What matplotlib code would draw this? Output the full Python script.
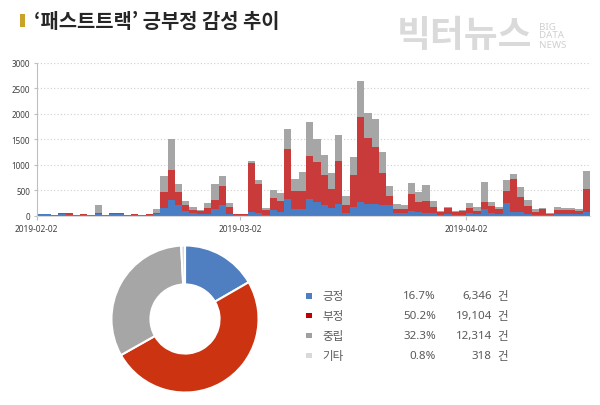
import numpy as np
import pandas as pd
import matplotlib
matplotlib.use("Agg")
import matplotlib.pyplot as plt
import matplotlib.dates as mdates
from matplotlib.patches import Rectangle

# ---------------- data ----------------
start_date = "2019-02-02"
n_days = 76
positive = [25, 25, 5, 30, 10, 5, 15, 5, 30, 5, 30, 25, 10, 15, 5, 10, 30,
            160, 300, 210, 100, 50, 30, 40, 130, 215,
            40, 10, 10, 80, 55, 20, 120, 80,
            330, 130, 140, 330, 260, 200, 145, 230, 50, 175, 270, 225, 225, 215,
            200, 50, 45, 95, 65, 50, 50, 20, 30, 20, 20, 60, 40,
            130, 60, 40, 240, 65, 70, 40, 20, 20, 10, 30, 30, 30, 30, 65]
negative = [5, 5, 15, 15, 45, 5, 20, 10, 20, 10, 25, 30, 5, 20, 10, 15, 20,
            300, 590, 250, 110, 70, 55, 105, 185, 375,
            125, 15, 20, 955, 560, 85, 220, 210,
            980, 360, 350, 835, 790, 600, 380, 840, 165, 630, 1670, 1300, 1130, 615,
            190, 85, 85, 335, 195, 245, 125, 45, 115, 60, 70, 90, 60,
            130, 125, 90, 240, 655, 305, 155, 45, 115, 30, 90, 85, 90, 70, 460]
neutral = [10, 10, 0, 5, 5, 0, 5, 5, 160, 5, 5, 5, 5, 5, 5, 5, 75,
           315, 620, 160, 80, 45, 25, 105, 305, 190,
           75, 5, 10, 45, 90, 45, 170, 155,
           390, 230, 360, 675, 460, 380, 315, 520, 165, 335, 690, 495, 545, 415,
           190, 100, 75, 220, 200, 315, 105, 20, 20, 20, 30, 105, 75,
           395, 75, 45, 210, 100, 185, 115, 60, 10, 5, 45, 30, 35, 25, 345]

xtick_dates = ["2019-02-02", "2019-03-02", "2019-04-02"]
yticks = [0, 500, 1000, 1500, 2000, 2500, 3000]

cat_labels = ["긍정", "부정", "중립", "기타"]
cat_pcts = ["16.7%", "50.2%", "32.3%", "0.8%"]
cat_counts = [6346, 19104, 12314, 318]

title_text = "‘패스트트랙’ 긍부정 감성 추이"

# ---------------- style ----------------
KR = ["Noto Sans CJK KR", "DejaVu Sans"]
bar_blue = "#4A7EC4"
bar_red = "#C93A3A"
bar_gray = "#A6A6A6"
pie_colors = ["#4F7FC0", "#CC3311", "#A6A6A6", "#D9D9D9"]
legend_colors = ["#4F7FC0", "#C00000", "#A0A0A0", "#D9D9D9"]
text_gray = "#595959"

fig = plt.figure(figsize=(6.0, 4.06), dpi=100)
fig.patch.set_facecolor("white")

# ---------------- bar chart ----------------
W, H = 600, 406
ax = fig.add_axes([36.5 / W, 1 - 216.7 / H, (590 - 36.5) / W, (216.7 - 63.5) / H])
dates = pd.date_range(start_date, periods=n_days, freq="D")
pos = np.array(positive)
neg = np.array(negative)
neu = np.array(neutral)
ax.bar(dates, pos, width=1.0, align="edge", color=bar_blue, linewidth=0)
ax.bar(dates, neg, width=1.0, align="edge", bottom=pos, color=bar_red, linewidth=0)
ax.bar(dates, neu, width=1.0, align="edge", bottom=pos + neg, color=bar_gray, linewidth=0)

ax.set_xlim(dates[0], dates[-1] + pd.Timedelta(days=1))
ax.set_ylim(0, 3000)
ax.set_yticks(yticks)
ax.set_yticklabels([str(v) for v in yticks], fontsize=5.8, color="#404040", family="Noto Sans")
ax.set_xticks(pd.to_datetime(xtick_dates))
ax.xaxis.set_major_formatter(mdates.DateFormatter("%Y-%m-%d"))
for lbl in ax.get_xticklabels():
    lbl.set_fontsize(6)
    lbl.set_color("#404040")
    lbl.set_family("Noto Sans")
ax.tick_params(axis="y", length=2.5, color="#BFBFBF", pad=2)
ax.tick_params(axis="x", length=3, color="#BFBFBF", pad=3)
ax.yaxis.grid(True, linestyle=(0, (1, 2)), color="#CFCFCF", linewidth=0.8)
ax.set_axisbelow(True)
for s in ["top", "right"]:
    ax.spines[s].set_visible(False)
ax.spines["left"].set_color("#BFBFBF")
ax.spines["bottom"].set_color("#D9D9D9")
ax.spines["left"].set_linewidth(0.8)
ax.spines["bottom"].set_linewidth(0.8)

# ---------------- donut ----------------
cx, cy, r = 185, 320, 75
axp = fig.add_axes([(cx - r) / W, 1 - (cy + r) / H, 2 * r / W, 2 * r / H])
axp.pie(cat_counts, colors=pie_colors, startangle=90, counterclock=False,
        wedgeprops=dict(width=0.53, edgecolor="white", linewidth=1.5))
axp.set_xlim(-1.02, 1.02)
axp.set_ylim(-1.02, 1.02)
axp.set_aspect("equal")
axp.axis("off")

# ---------------- overlay (title, legend table, watermark) ----------------
ov = fig.add_axes([0, 0, 1, 1], zorder=5)
ov.set_xlim(0, W)
ov.set_ylim(H, 0)
ov.axis("off")
ov.patch.set_alpha(0)

ov.add_patch(Rectangle((20, 15), 5, 12.5, color="#C9A227", linewidth=0))
ov.text(34, 21.5, title_text, family=KR, fontsize=14.3, fontweight="bold",
        color="#262626", va="center", ha="left")

ov.text(397, 36, "빅터뉴스", family=KR, fontsize=26.5, fontweight="bold",
        color="#DADADA", va="center", ha="left")
ov.text(539, 36, "BIG\nDATA\nNEWS", family="Noto Sans", fontsize=7,
        color="#D0D0D0", va="center", ha="left", linespacing=1.0)

rows_y = [297, 316.5, 336.5, 356.5]
for i in range(4):
    y = rows_y[i]
    ov.add_patch(Rectangle((306, y - 3), 5.5, 5.5, color=legend_colors[i], linewidth=0))
    ov.text(322, y, cat_labels[i], family=KR, fontsize=8.3, color=text_gray,
            va="center", ha="left")
    ov.text(436, y, cat_pcts[i], family="Noto Sans", fontsize=8.3, color=text_gray,
            va="center", ha="right")
    ov.text(492, y, f"{cat_counts[i]:,}", family="Noto Sans", fontsize=8.3,
            color=text_gray, va="center", ha="right")
    ov.text(497, y, "건", family=KR, fontsize=8.3, color=text_gray,
            va="center", ha="left")

fig.savefig("out.png", dpi=100, facecolor="white")
